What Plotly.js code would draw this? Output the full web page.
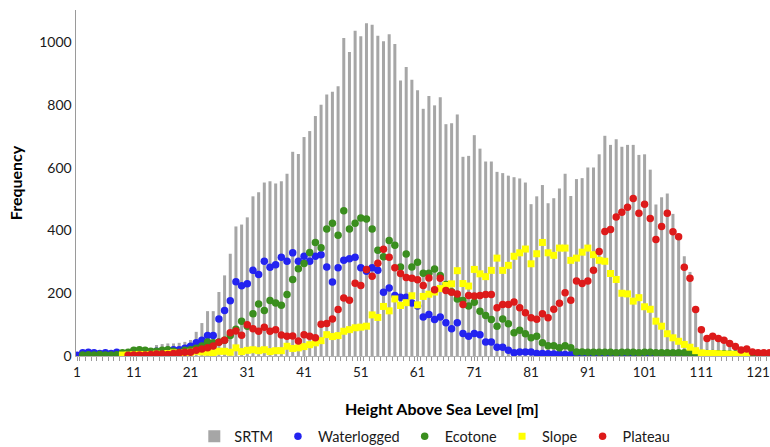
<!DOCTYPE html>
<html>
<head>
<meta charset="utf-8">
<script src="https://cdn.plot.ly/plotly-3.0.1.min.js"></script>
<style>html,body{margin:0;padding:0;background:#fff;}#chart{width:770px;height:447px;}</style>
</head>
<body>
<div id="chart"></div>
<script>
const heights = [1,2,3,4,5,6,7,8,9,10,11,12,13,14,15,16,17,18,19,20,21,22,23,24,25,26,27,28,29,30,31,32,33,34,35,36,37,38,39,40,41,42,43,44,45,46,47,48,49,50,51,52,53,54,55,56,57,58,59,60,61,62,63,64,65,66,67,68,69,70,71,72,73,74,75,76,77,78,79,80,81,82,83,84,85,86,87,88,89,90,91,92,93,94,95,96,97,98,99,100,101,102,103,104,105,106,107,108,109,110,111,112,113,114,115,116,117,118,119,120,121,122,123];
const tickLabels = [1,11,21,31,41,51,61,71,81,91,101,111,121];

const srtm = [5,5,6,6,7,7,8,8,10,12,
  14,16,20,25,35,38,40,40,42,45,
  51,77,105,143,143,204,257,326,413,419,
  442,509,522,553,557,550,557,581,651,644,
  698,717,765,801,834,842,860,1014,969,1037,
  1019,1061,1056,1021,1003,1026,995,878,921,881,
  847,788,829,799,825,739,742,770,635,638,
  704,661,620,620,587,583,575,570,566,553,
  484,509,545,487,503,534,581,510,564,567,
  601,601,643,702,673,691,667,673,673,641,
  643,594,483,506,518,453,390,318,268,157,
  93,61,61,51,40,35,24,20,16,12,
  10,8,6];

const waterlogged = [2,10,12,10,8,10,8,12,4,3,
  5,8,10,12,15,15,18,20,20,25,
  31,42,50,65,65,118,145,176,237,224,
  230,273,260,302,283,291,315,302,329,302,
  318,302,318,323,284,236,281,305,310,315,
  281,270,281,273,203,217,193,187,187,169,
  159,124,132,116,124,106,87,106,72,63,
  72,68,45,45,28,28,18,10,13,13,
  13,8,8,7,6,6,5,5,5,4,
  3,3,3,2,2,2,2,2,1,1,
  1,1,1,1,1,1,1,1,1,1,
  1,1,1,1,1,1,1,1,1,1,
  1,1,1];

const ecotone = [null,3,4,3,5,3,3,4,10,12,
  18,20,18,15,15,18,20,15,12,18,
  20,25,32,45,42,45,50,65,85,111,
  95,135,166,145,177,169,162,196,244,278,
  295,330,362,345,405,423,385,463,405,423,
  440,437,405,337,316,368,353,284,325,284,
  299,264,264,277,257,228,205,182,177,159,
  171,143,129,116,95,118,103,74,82,71,
  58,63,42,33,33,26,33,26,13,13,
  12,12,12,12,12,10,12,12,12,10,
  12,12,10,10,10,10,10,10,10,10,
  8,8,8,7,7,6,6,5,5,5,
  5,4,4];

const slope = [null,null,null,null,null,null,null,null,3,3,
  4,5,4,5,6,5,8,10,8,10,
  12,15,13,12,10,15,15,12,26,14,
  18,20,17,20,14,17,17,31,24,26,
  30,36,42,49,68,62,65,79,84,90,
  92,95,131,123,158,144,182,161,170,192,
  163,190,197,204,215,225,230,272,231,223,
  276,262,253,273,312,273,289,318,329,341,
  294,326,362,329,321,344,344,305,312,331,
  344,323,305,302,263,244,200,198,175,186,
  157,149,111,95,71,58,47,37,28,17,
  10,8,8,7,6,6,5,4,3,null,
  null,null,null];

const plateau = [null,null,null,null,null,null,null,null,null,2,
  3,3,3,5,6,6,5,8,10,12,
  12,18,22,26,32,44,50,74,80,66,
  100,87,79,92,79,84,67,63,64,48,
  68,63,58,101,104,118,148,185,178,232,
  225,276,254,296,340,315,281,263,250,248,
  243,225,249,211,248,209,203,198,164,193,
  191,193,196,196,154,164,164,172,154,138,
  122,117,135,122,149,168,202,178,239,231,
  239,273,333,397,403,443,458,474,502,455,
  484,438,371,413,455,396,380,283,248,148,
  84,56,63,56,50,40,30,19,22,13,
  10,10,10];

const FONT = 'Lato, "Open Sans", "Liberation Sans", sans-serif';
const ms = 7.5;

const traces = [
  {type:'bar', name:'SRTM', x:heights, y:srtm, marker:{color:'#a6a6a6'}},
  {type:'scatter', mode:'markers', name:'Waterlogged', x:heights, y:waterlogged,
   marker:{color:'#2323f0', size:ms, symbol:'circle'}},
  {type:'scatter', mode:'markers', name:'Ecotone', x:heights, y:ecotone,
   marker:{color:'#3a8e1e', size:ms, symbol:'circle'}},
  {type:'scatter', mode:'markers', name:'Slope', x:heights, y:slope,
   marker:{color:'#ffff00', size:7, symbol:'square'}},
  {type:'scatter', mode:'markers', name:'Plateau', x:heights, y:plateau,
   marker:{color:'#dd1a1a', size:ms, symbol:'circle'}}
];

const layout = {
  width:770, height:447,
  margin:{l:76, r:0, t:10, b:91, autoexpand:false},
  paper_bgcolor:'#ffffff', plot_bgcolor:'#ffffff',
  font:{family:FONT, size:14, color:'#1a1a1a'},
  bargap:0.47,
  showlegend:true,
  legend:{orientation:'h', x:0.517, xanchor:'center', y:-0.232, yanchor:'middle',
    font:{family:FONT, size:14.5, color:'#1a1a1a'}, itemwidth:30, tracegroupgap:0,
    bgcolor:'rgba(0,0,0,0)'},
  xaxis:{
    range:[0.82, 123.1],
    automargin:false,
    tickvals:tickLabels, ticktext:tickLabels.map(String),
    ticklabeloverflow:'allow',
    ticks:'outside', ticklen:4, tickcolor:'#9a9a9a', tickwidth:1,
    minor:{tick0:0.5, dtick:1, ticks:'outside', ticklen:4, tickcolor:'#9a9a9a', tickwidth:1},
    showline:true, linecolor:'#b0b0b0', linewidth:1,
    showgrid:false, zeroline:false,
    tickfont:{family:FONT, size:13.5, color:'#1a1a1a'},
    title:{text:''}
  },
  yaxis:{
    range:[0, 1103],
    automargin:false,
    tickvals:[0,200,400,600,800,1000],
    ticks:'', showline:true, linecolor:'#9a9a9a', linewidth:1.5,
    showgrid:false, zeroline:false,
    tickfont:{family:FONT, size:14, color:'#1a1a1a'},
    title:{text:'<b>Frequency</b>', font:{family:FONT, size:16, color:'#000'}, standoff:12}
  },
  annotations:[
    {text:'<b>Height Above Sea Level [m]</b>', xref:'paper', yref:'paper',
     x:(442-76)/694, y:(356-408)/346, xanchor:'center', yanchor:'middle', showarrow:false,
     font:{family:FONT, size:16, color:'#000'}}
  ]
};

Plotly.newPlot('chart', traces, layout, {displayModeBar:false, staticPlot:true});
</script>
</body>
</html>
